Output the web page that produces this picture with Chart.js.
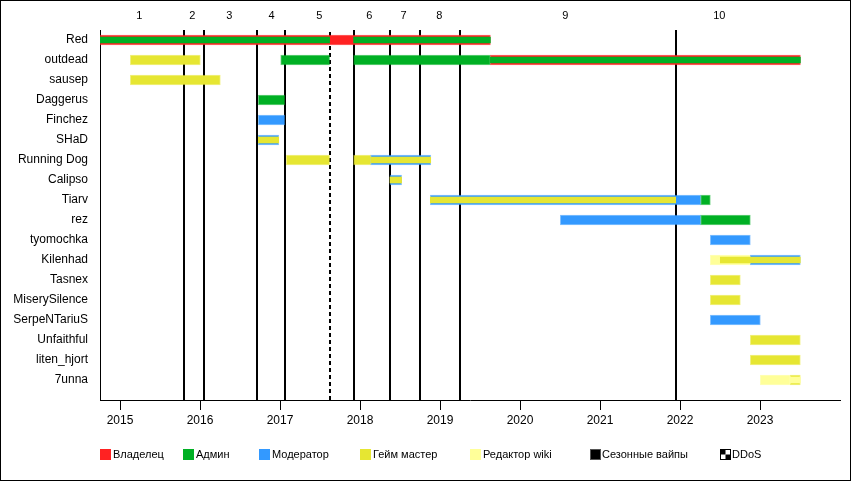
<!DOCTYPE html>
<html>
<head>
<meta charset="utf-8">
<script src="https://cdn.jsdelivr.net/npm/chart.js@4/dist/chart.umd.min.js"></script>
<style>
  html, body { margin: 0; padding: 0; background: #fff; }
  canvas { display: block; }
</style>
</head>
<body>
<canvas id="timeline" width="851" height="481"></canvas>
<script>
const ROWS = [
  "Red", "outdead", "sausep", "Daggerus", "Finchez", "SHaD", "Running Dog",
  "Calipso", "Tiarv", "rez", "tyomochka", "Kilenhad", "Tasnex",
  "MiserySilence", "SerpeNTariuS", "Unfaithful", "liten_hjort", "7unna"
];

const YEAR_TICKS = [2015, 2016, 2017, 2018, 2019, 2020, 2021, 2022, 2023];

// seasonal wipes + ddos (decimal years)
const WIPES = [2015.8, 2016.054, 2016.716, 2017.0625, 2017.92, 2018.379, 2018.754, 2019.254, 2021.954];
const DDOS = [2017.629];
const SEASON_NAMES = ["1", "2", "3", "4", "5", "6", "7", "8", "9", "10"];
const SEASON_LABEL_AT = [2015.242, 2015.904, 2016.366, 2016.896, 2017.491, 2018.116, 2018.546, 2018.991, 2020.566, 2022.491];

// full height bars: [row, from, to]
const ownerBars = [
  ["Red", 2014.75, 2019.63],
  ["outdead", 2019.63, 2023.505]
];
const adminBars = [
  ["outdead", 2017.009, 2017.62],
  ["outdead", 2017.92, 2019.63],
  ["Daggerus", 2016.729, 2017.059],
  ["Tiarv", 2022.259, 2022.379],
  ["rez", 2022.259, 2022.879]
];
const modBars = [
  ["Finchez", 2016.729, 2017.059],
  ["SHaD", 2016.729, 2016.984],
  ["Running Dog", 2018.134, 2018.884],
  ["Calipso", 2018.375, 2018.52],
  ["Tiarv", 2018.879, 2022.259],
  ["rez", 2020.504, 2022.259],
  ["tyomochka", 2022.379, 2022.879],
  ["Kilenhad", 2022.879, 2023.504],
  ["SerpeNTariuS", 2022.379, 2023.004]
];
const gmBars = [
  ["outdead", 2015.129, 2016.004],
  ["sausep", 2015.129, 2016.254],
  ["Running Dog", 2017.079, 2017.62],
  ["Running Dog", 2017.92, 2018.134],
  ["Tasnex", 2022.379, 2022.754],
  ["MiserySilence", 2022.379, 2022.754],
  ["Unfaithful", 2022.879, 2023.504],
  ["liten_hjort", 2022.879, 2023.504],
  ["7unna", 2023.379, 2023.504]
];
const wikiBars = [
  ["Kilenhad", 2022.379, 2022.879],
  ["7unna", 2023.004, 2023.379]
];

// thin bars drawn inside (second role)
const adminInner = [
  ["Red", 2014.75, 2017.62],
  ["Red", 2017.92, 2019.63],
  ["outdead", 2019.63, 2023.505]
];
const gmInner = [
  ["SHaD", 2016.729, 2016.984],
  ["Running Dog", 2018.134, 2018.884],
  ["Calipso", 2018.375, 2018.52],
  ["Tiarv", 2018.879, 2021.946],
  ["Kilenhad", 2022.504, 2023.504]
];
const wikiInner = [
  ["7unna", 2023.379, 2023.504]
];

const LEGEND_LABELS = ["Владелец", "Админ", "Модератор", "Гейм мастер", "Редактор wiki", "Сезонные вайпы", "DDoS"];

const COLORS = {
  owner: "#ff2222",
  admin: "#00b024",
  mod: "#3399ff",
  gm: "#e6e632",
  wiki: "#ffff99",
  wipe: "#000000"
};
const EDGES = {
  owner: "rgba(255,34,34,0.7)",
  admin: "rgba(0,176,36,0.6)",
  mod: "rgba(51,153,255,0.6)",
  gm: "rgba(230,230,50,0.6)",
  wiki: "rgba(255,255,153,0.7)"
};

function toPoints(list) {
  return list.map((s) => ({ x: [s[1], s[2]], y: ROWS.indexOf(s[0]) }));
}

function fullSet(list, role) {
  return {
    data: toPoints(list),
    backgroundColor: COLORS[role],
    borderColor: EDGES[role],
    borderWidth: 1,
    borderSkipped: false,
    barThickness: 10,
    grouped: false,
    order: 2
  };
}

function innerSet(list, role) {
  return {
    data: toPoints(list),
    backgroundColor: COLORS[role],
    borderWidth: 0,
    barThickness: 6,
    grouped: false,
    order: 1
  };
}

const FONT = '"Liberation Sans", Arial, sans-serif';
Chart.defaults.font.family = FONT;
Chart.defaults.color = "#000";

const overlay = {
  id: "overlay",
  beforeDatasetsDraw(chart) {
    const { ctx, chartArea: a, scales: { x } } = chart;
    ctx.save();
    ctx.strokeStyle = "#000";
    ctx.lineWidth = 2;
    WIPES.forEach((d) => {
      const px = Math.round(x.getPixelForValue(d));
      ctx.beginPath();
      ctx.moveTo(px, a.top);
      ctx.lineTo(px, a.bottom);
      ctx.stroke();
    });
    ctx.setLineDash([4, 3]);
    DDOS.forEach((d) => {
      const px = Math.round(x.getPixelForValue(d));
      ctx.beginPath();
      ctx.moveTo(px, a.top + 2);
      ctx.lineTo(px, a.bottom);
      ctx.stroke();
    });
    ctx.restore();
  },
  afterDraw(chart) {
    const { ctx, scales: { x } } = chart;
    ctx.save();
    // season numbers
    ctx.fillStyle = "#000";
    ctx.font = "11px " + FONT;
    ctx.textAlign = "center";
    ctx.textBaseline = "middle";
    SEASON_NAMES.forEach((n, i) => {
      ctx.fillText(n, x.getPixelForValue(SEASON_LABEL_AT[i]), 16);
    });

    // legend
    const legendX = [100, 183, 259, 360, 470, 590, 720];
    const fills = [COLORS.owner, COLORS.admin, COLORS.mod, COLORS.gm, COLORS.wiki, COLORS.wipe, null];
    const edges = [EDGES.owner, EDGES.admin, EDGES.mod, EDGES.gm, EDGES.wiki, "#555", "#000"];
    ctx.textAlign = "left";
    ctx.font = "11px " + FONT;
    LEGEND_LABELS.forEach((label, i) => {
      const bx = legendX[i], by = 449;
      if (fills[i]) {
        ctx.fillStyle = fills[i];
        ctx.fillRect(bx, by, 11, 11);
      } else {
        ctx.fillStyle = "#fff";
        ctx.fillRect(bx, by, 11, 11);
        ctx.fillStyle = "#000";
        ctx.fillRect(bx, by, 5.5, 5.5);
        ctx.fillRect(bx + 5.5, by + 5.5, 5.5, 5.5);
      }
      ctx.strokeStyle = edges[i];
      ctx.lineWidth = 1;
      ctx.strokeRect(bx + 0.5, by + 0.5, 10, 10);
      ctx.fillStyle = "#000";
      ctx.fillText(label, bx + (i >= 5 ? 12 : 13), by + 5.5);
    });

    // outer frame
    ctx.strokeStyle = "#000";
    ctx.lineWidth = 1;
    ctx.strokeRect(0.5, 0.5, chart.width - 1, chart.height - 1);
    ctx.restore();
  }
};

new Chart(document.getElementById("timeline"), {
  type: "bar",
  data: {
    datasets: [
      fullSet(ownerBars, "owner"),
      fullSet(adminBars, "admin"),
      fullSet(modBars, "mod"),
      fullSet(gmBars, "gm"),
      fullSet(wikiBars, "wiki"),
      innerSet(adminInner, "admin"),
      innerSet(gmInner, "gm"),
      innerSet(wikiInner, "wiki")
    ]
  },
  options: {
    indexAxis: "y",
    responsive: false,
    devicePixelRatio: 1,
    animation: false,
    events: [],
    layout: { padding: { top: 30, right: 11, left: 0, bottom: 0 } },
    plugins: {
      legend: { display: false },
      tooltip: { enabled: false }
    },
    scales: {
      x: {
        type: "linear",
        offset: false,
        min: 2014.75,
        max: 2024,
        afterBuildTicks: (s) => { s.ticks = YEAR_TICKS.map((v) => ({ value: v })); },
        afterFit: (s) => { s.height = 81; },
        ticks: {
          callback: (v) => String(v),
          font: { size: 12 },
          padding: 3,
          maxRotation: 0,
          autoSkip: false
        },
        grid: {
          display: true,
          drawOnChartArea: false,
          drawTicks: true,
          tickLength: 10,
          color: "#000"
        },
        border: { display: true, color: "#000", width: 1 }
      },
      y: {
        type: "linear",
        offset: false,
        reverse: true,
        min: -0.5,
        max: 18,
        afterBuildTicks: (s) => { s.ticks = ROWS.map((_, i) => ({ value: i })); },
        afterFit: (s) => { s.width = 100; },
        ticks: {
          callback: (v) => ROWS[v],
          font: { size: 12 },
          padding: 12,
          autoSkip: false
        },
        grid: { display: false, drawTicks: false },
        border: { display: true, color: "#000", width: 1 }
      }
    }
  },
  plugins: [overlay]
});
</script>
</body>
</html>
